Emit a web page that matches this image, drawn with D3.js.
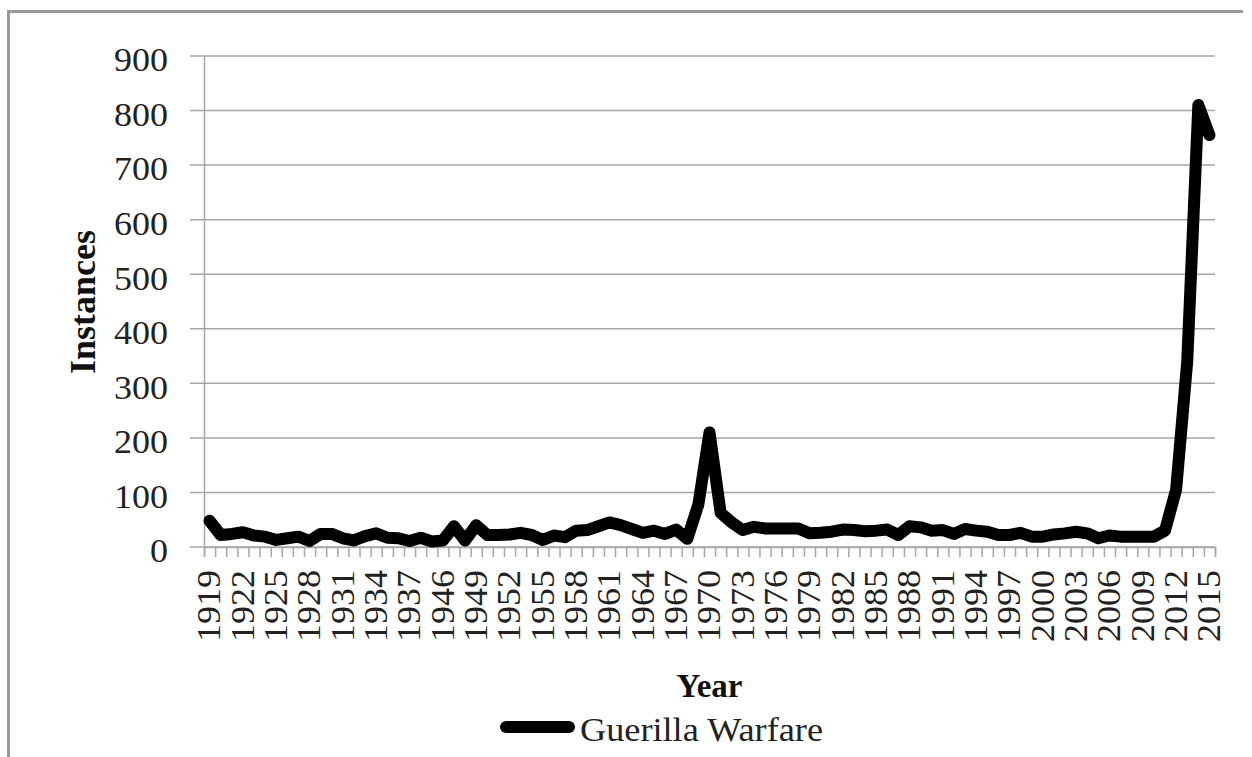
<!DOCTYPE html>
<html>
<head>
<meta charset="utf-8">
<script src="https://cdn.jsdelivr.net/npm/d3@7"></script>
<style>
  body { margin: 0; background: #fff; }
  svg { display: block; }
</style>
</head>
<body>
<svg id="svg" width="1252" height="757"></svg>
<script>
const years = [
  "1919","1920","1921","1922","1923","1924","1925","1926","1927","1928",
  "1929","1930","1931","1932","1933","1934","1935","1936","1937","1938","1939",
  "1946","1947","1948","1949","1950","1951","1952","1953","1954","1955",
  "1956","1957","1958","1959","1960","1961","1962","1963","1964","1965",
  "1966","1967","1968","1969","1970","1971","1972","1973","1974","1975",
  "1976","1977","1978","1979","1980","1981","1982","1983","1984","1985",
  "1986","1987","1988","1989","1990","1991","1992","1993","1994","1995",
  "1996","1997","1998","1999","2000","2001","2002","2003","2004","2005",
  "2006","2007","2008","2009","2010","2011","2012","2013","2014","2015"
];

const guerilla = [
  48, 22, 24, 27, 21, 19, 13, 16, 19, 11,
  24, 24, 16, 12, 20, 25, 17, 16, 11, 17, 10,
  12, 38, 12, 40, 22, 22, 23, 26, 22, 13,
  21, 18, 30, 31, 38, 45, 40, 33, 26, 30,
  24, 32, 15, 78, 210, 63, 45, 31, 37, 34,
  34, 34, 34, 25, 26, 28, 32, 31, 29, 30,
  32, 22, 38, 36, 30, 31, 24, 33, 30, 28,
  22, 22, 26, 19, 19, 23, 25, 28, 25, 16,
  21, 19, 19, 19, 19, 30, 105, 340, 810, 755
];

const yearLabels = [
  "1919","1922","1925","1928","1931","1934","1937","1946","1949","1952",
  "1955","1958","1961","1964","1967","1970","1973","1976","1979","1982",
  "1985","1988","1991","1994","1997","2000","2003","2006","2009","2012","2015"
];

const yTicks = [0, 100, 200, 300, 400, 500, 600, 700, 800, 900];

const plotLeft = 204, plotRight = 1215, plotTop = 56, plotBottom = 547;
const font = "'Liberation Serif', 'Times New Roman', serif";
const gridColor = "#a6a6a6";

const svg = d3.select("#svg");

// chart frame (cut off at right and bottom)
svg.append("path")
  .attr("d", `M8.5,757 V11.5 H1243`)
  .attr("fill", "none")
  .attr("stroke", "#9a9a9a")
  .attr("stroke-width", 3);

const x = d3.scaleBand().domain(years).range([plotLeft, plotRight]).padding(0);
const xEdges = d3.scaleLinear().domain([0, years.length]).range([plotLeft, plotRight]);
const y = d3.scaleLinear().domain([0, 900]).range([plotBottom, plotTop]);

// gridlines (with the small tick stub left of the axis)
svg.append("g")
  .selectAll("line")
  .data(yTicks)
  .join("line")
  .attr("x1", plotLeft - 14)
  .attr("x2", plotRight)
  .attr("y1", d => y(d))
  .attr("y2", d => y(d))
  .attr("stroke", gridColor)
  .attr("stroke-width", 1.5);

// y axis
const yAxis = svg.append("g")
  .attr("transform", `translate(${plotLeft},0)`)
  .call(d3.axisLeft(y).tickValues(yTicks).tickSize(0).tickPadding(36));
yAxis.select(".domain").attr("stroke", gridColor).attr("stroke-width", 1.5);
yAxis.selectAll("text")
  .attr("font-family", font)
  .attr("font-size", 33)
  .attr("fill", "#222")
  .attr("dy", "0.45em")
  .attr("textLength", d => String(d).length * 18)
  .attr("lengthAdjust", "spacingAndGlyphs");

// x axis: ticks sit on the category boundaries
const xAxis = svg.append("g")
  .attr("transform", `translate(0,${plotBottom})`)
  .call(d3.axisBottom(xEdges).tickValues(d3.range(years.length + 1)).tickSize(10).tickFormat(""));
xAxis.select(".domain").attr("stroke", gridColor).attr("stroke-width", 1.5);
xAxis.selectAll(".tick line").attr("stroke", gridColor).attr("stroke-width", 1.5);

// year labels, rotated, centred in their category
svg.append("g")
  .selectAll("text")
  .data(yearLabels)
  .join("text")
  .attr("transform", d => `translate(${x(d) + x.bandwidth() / 2},570) rotate(-90)`)
  .attr("text-anchor", "end")
  .attr("dy", "0.33em")
  .attr("font-family", font)
  .attr("font-size", 33)
  .attr("fill", "#222")
  .attr("textLength", 72)
  .attr("lengthAdjust", "spacingAndGlyphs")
  .text(d => d);

// axis titles
svg.append("text")
  .attr("transform", `translate(95,302) rotate(-90)`)
  .attr("text-anchor", "middle")
  .attr("font-family", font)
  .attr("font-weight", "bold")
  .attr("font-size", 36)
  .attr("fill", "#111")
  .text("Instances");

svg.append("text")
  .attr("x", (plotLeft + plotRight) / 2)
  .attr("y", 697)
  .attr("text-anchor", "middle")
  .attr("font-family", font)
  .attr("font-weight", "bold")
  .attr("font-size", 33)
  .attr("fill", "#111")
  .text("Year");

// the series
const line = d3.line()
  .x((d, i) => x(years[i]) + x.bandwidth() / 2)
  .y(d => y(d));

svg.append("path")
  .datum(guerilla)
  .attr("d", line)
  .attr("fill", "none")
  .attr("stroke", "#000")
  .attr("stroke-width", 12)
  .attr("stroke-linejoin", "round")
  .attr("stroke-linecap", "round");

// legend
svg.append("line")
  .attr("x1", 506).attr("x2", 569)
  .attr("y1", 727).attr("y2", 727)
  .attr("stroke", "#000")
  .attr("stroke-width", 12)
  .attr("stroke-linecap", "round");

svg.append("text")
  .attr("x", 580)
  .attr("y", 741)
  .attr("font-family", font)
  .attr("font-size", 33)
  .attr("fill", "#222")
  .attr("textLength", 243)
  .attr("lengthAdjust", "spacingAndGlyphs")
  .text("Guerilla Warfare");
</script>
</body>
</html>
